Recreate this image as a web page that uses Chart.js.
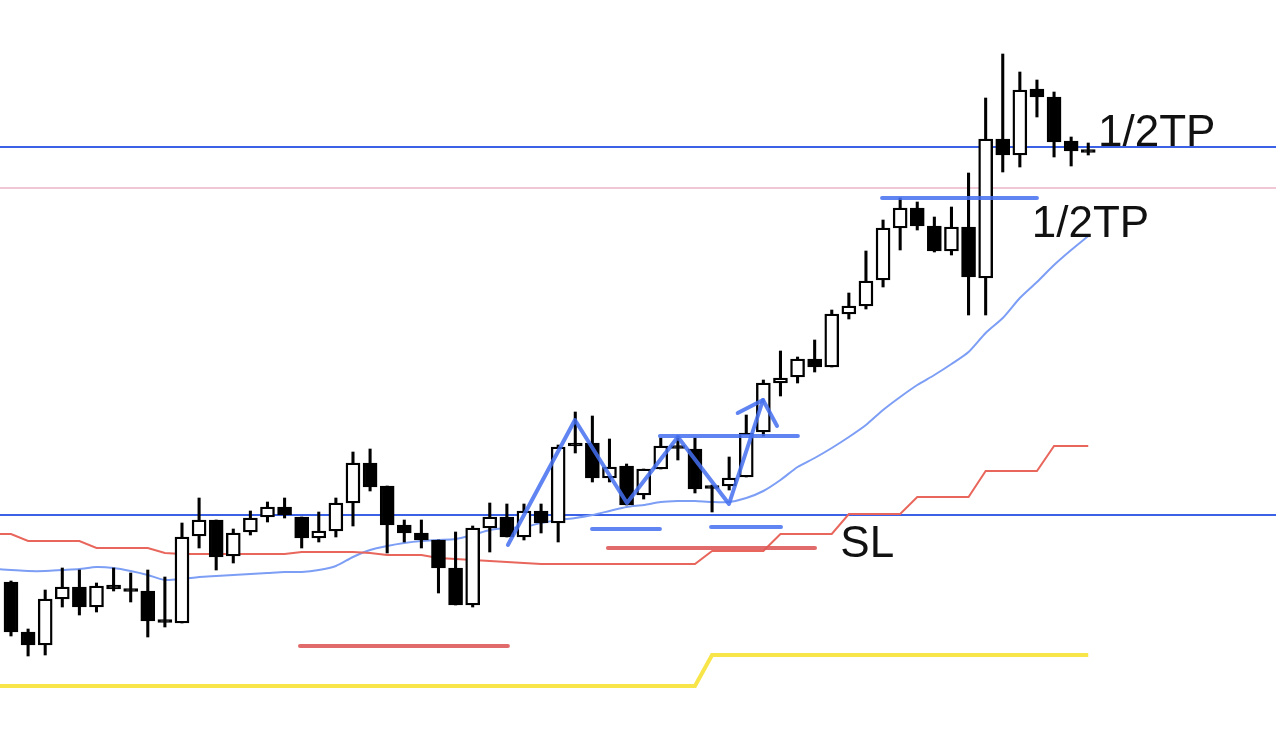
<!DOCTYPE html>
<html>
<head>
<meta charset="utf-8">
<title>Candles</title>
<script src="https://cdn.jsdelivr.net/npm/chart.js@4.4.1/dist/chart.umd.min.js"></script>
<style>
  html, body { margin: 0; padding: 0; background: #fff; }
  canvas { display: block; }
</style>
</head>
<body>
<canvas id="chart" width="1276" height="752"></canvas>
<script>
// candle values (one entry per bar, index 0..63)
const opens  = [170,120,107,153,165,145,167,162,161,131,129,216,232,196,220,235,245,235,214,221,249,289,266,227,219,212,184,147,224,235,215,241,229,309,309,274,286,257,283,306,303,265,266,275,320,369,375,393,385,438,446,472,524,544,526,501,525,474,613,597,663,655,611,601];
const highs  = [171,123,162,184,182,169,184,179,182,175,229,254,232,223,241,250,254,235,240,254,300,303,266,232,232,212,220,226,249,248,248,248,307,340,336,313,288,283,314,316,314,267,295,337,372,401,395,412,442,459,501,532,554,550,535,545,579,654,698,680,672,660,615,609];
const lows   = [116, 96, 97,145,137,140,161,150,115,125,129,204,182,189,217,230,234,204,210,215,226,261,199,210,204,159,147,145,200,215,212,219,210,299,270,270,247,253,283,292,259,240,262,275,316,356,369,380,385,433,443,465,502,522,500,497,437,437,580,585,635,595,586,597];
const closes = [120,107,153,165,145,166,163,162,131,131,215,232,195,219,234,245,237,214,221,249,289,265,227,219,212,184,147,224,235,215,241,229,305,306,274,285,247,283,306,304,263,265,274,319,369,374,393,385,438,446,471,524,544,526,501,525,475,613,597,662,655,610,601,601];

// indicator lines, index -1..63
const lineStart = -1;
const maLine = [183,182,181,181,182,183,185,184,181,177,172,173,175,176,177,178,179,180,180,182,186,195,202,206,209,211,212,213,217,222,224,225,229,232,234,237,241,245,247,250,251,251,250,250,254,261,272,285,294,304,315,327,342,355,367,377,388,400,419,434,454,470,487,502,516];
const redLine = [218,218,211,211,211,211,204,204,204,204,199,198,198,198,198,198,198,198,200,200,200,200,199,197,197,197,194,193,192,191,190,189,188,188,188,188,188,188,188,188,188,188,201,201,201,201,218,218,218,218,238,238,238,238,255,255,255,255,281,281,281,281,306,306,306];
const yellowLine = [66,66,66,66,66,66,66,66,66,66,66,66,66,66,66,66,66,66,66,66,66,66,66,66,66,66,66,66,66,66,66,66,66,66,66,66,66,66,66,66,66,66,97,97,97,97,97,97,97,97,97,97,97,97,97,97,97,97,97,97,97,97,97,97,97];

// full-width levels
const blueLevels = [605, 237];
const pinkLevel = 564;

// hand-drawn markup, in (bar index, price)
const zigzag = [[29.06,207],[32.98,332],[36.02,249],[39.0,315],[41.99,248],[43.98,352]];
const arrowHead = [[42.5,339],[43.98,352],[44.8,326]];
const blueMarks = [[37.95,46.02,316],[50.94,60.0,554],[33.98,37.95,223],[40.94,45.03,225]];
const redMarks = [[34.91,47.02,204],[16.9,29.06,106]];
const labels = [["1/2TP",63.57,606],["1/2TP",59.7,515],["SL",48.5,195]];

const xMin = -0.643;
const xMax = 73.98;

const idx = opens.map((_, i) => i);

function bodyRange(i) {
  const o = opens[i], c = closes[i];
  if (Math.abs(o - c) < 3) {
    const m = (o + c) / 2;
    return [m - 1.5, m + 1.5];
  }
  return [o, c];
}

const bodyColors = idx.map(i => {
  if (Math.abs(opens[i] - closes[i]) < 3) return "#000";
  return closes[i] > opens[i] ? "#fff" : "#000";
});

function series(values) {
  return values.map((v, k) => ({ x: lineStart + k, y: v }));
}

function segment(x0, x1, y) {
  return [{ x: x0, y: y }, { x: x1, y: y }];
}

const datasets = [];

datasets.push({
  type: "line",
  data: series(yellowLine),
  borderColor: "#f8e54a",
  borderWidth: 4,
  pointRadius: 0,
  order: 10,
});
datasets.push({
  type: "line",
  data: series(redLine),
  borderColor: "#e8665c",
  borderWidth: 2,
  pointRadius: 0,
  order: 9,
});
datasets.push({
  type: "line",
  data: series(maLine),
  borderColor: "#7d9ef5",
  borderWidth: 2,
  pointRadius: 0,
  tension: 0.25,
  order: 9,
});
datasets.push({
  type: "line",
  data: segment(xMin - 1, xMax + 1, pinkLevel),
  borderColor: "#ebb6c7",
  borderWidth: 1.6,
  pointRadius: 0,
  order: 9,
});
blueLevels.forEach(v => {
  datasets.push({
    type: "line",
    data: segment(xMin - 1, xMax + 1, v),
    borderColor: "#3b62e6",
    borderWidth: 2,
    pointRadius: 0,
    order: 9,
  });
});

// candles: wicks under bodies
datasets.push({
  type: "bar",
  data: idx.map(i => ({ x: i, y: [lows[i], highs[i]] })),
  backgroundColor: "#000",
  barThickness: 2.4,
  grouped: false,
  order: 6,
});
datasets.push({
  type: "bar",
  data: idx.map(i => ({ x: i, y: bodyRange(i) })),
  backgroundColor: bodyColors,
  borderColor: "#000",
  borderWidth: 2.4,
  borderSkipped: false,
  barThickness: 14,
  grouped: false,
  order: 5,
});

// markup on top
const markBlue = "rgba(68,112,240,0.85)";
const markRed = "rgba(222,90,90,0.9)";
redMarks.forEach(m => {
  datasets.push({
    type: "line",
    data: segment(m[0], m[1], m[2]),
    borderColor: markRed,
    borderWidth: 4,
    borderCapStyle: "round",
    pointRadius: 0,
    order: 2,
  });
});
blueMarks.forEach(m => {
  datasets.push({
    type: "line",
    data: segment(m[0], m[1], m[2]),
    borderColor: markBlue,
    borderWidth: 4,
    borderCapStyle: "round",
    pointRadius: 0,
    order: 2,
  });
});
datasets.push({
  type: "line",
  data: zigzag.map(p => ({ x: p[0], y: p[1] })),
  borderColor: markBlue,
  borderWidth: 4,
  borderCapStyle: "round",
  borderJoinStyle: "round",
  pointRadius: 0,
  order: 1,
});
datasets.push({
  type: "line",
  data: arrowHead.map(p => ({ x: p[0], y: p[1] })),
  borderColor: markBlue,
  borderWidth: 4,
  borderCapStyle: "round",
  borderJoinStyle: "round",
  pointRadius: 0,
  order: 1,
});

const textPlugin = {
  id: "markText",
  afterDatasetsDraw(chart) {
    const { ctx, scales } = chart;
    ctx.save();
    ctx.fillStyle = "#111";
    ctx.font = "44px 'Liberation Sans', Arial, sans-serif";
    ctx.textBaseline = "alphabetic";
    labels.forEach(l => {
      ctx.fillText(l[0], scales.x.getPixelForValue(l[1]), scales.y.getPixelForValue(l[2]));
    });
    ctx.restore();
  },
};

new Chart(document.getElementById("chart"), {
  data: { datasets },
  options: {
    responsive: false,
    animation: false,
    layout: { padding: 0 },
    scales: {
      x: { type: "linear", min: xMin, max: xMax, display: false, offset: false },
      y: { type: "linear", min: 0, max: 752, display: false },
    },
    plugins: { legend: { display: false }, tooltip: { enabled: false } },
  },
  plugins: [textPlugin],
});
</script>
</body>
</html>
